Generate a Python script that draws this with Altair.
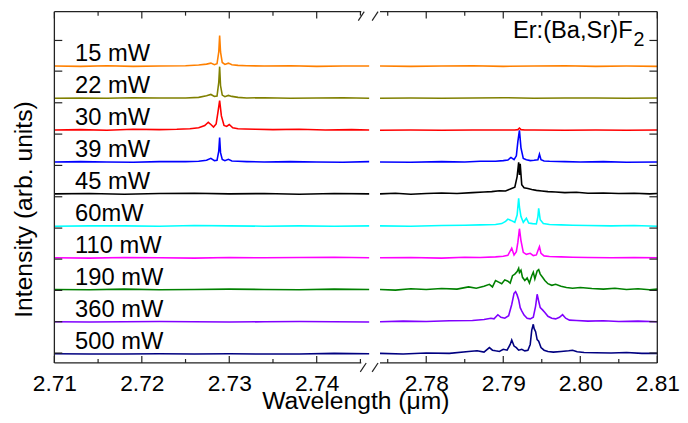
import altair as alt
import pandas as pd

# ---------------- data ----------------
labels = ["15 mW", "22 mW", "30 mW", "39 mW", "45 mW", "60mW", "110 mW", "190 mW", "360 mW", "500 mW"]
offsets = [9, 8, 7, 6, 5, 4, 3, 2, 1, 0]
colors = ["#FF8000", "#808000", "#FF0000", "#0000FF", "#000000",
          "#00FFFF", "#FF00FF", "#008000", "#8000FF", "#000080"]

# left segment (2.710 - 2.746 um)
LEFT_PEAK_X = [2.710, 2.713, 2.716, 2.719, 2.722, 2.725, 2.7265, 2.7274, 2.7279, 2.7283, 2.7286,
               2.7288, 2.7289, 2.7290, 2.7292, 2.7295, 2.7299, 2.7303, 2.7310, 2.7320, 2.7340,
               2.7370, 2.7400, 2.7430, 2.7460]
mw15_left = [0.01, 0.00, 0.02, 0.00, 0.01, 0.02, 0.04, 0.07, 0.10, 0.05, 0.08, 0.45, 0.96, 0.45,
             0.12, 0.06, 0.10, 0.05, 0.03, 0.02, 0.01, 0.02, 0.00, 0.01, 0.01]
mw22_left = [0.00, 0.01, 0.00, 0.02, 0.01, 0.01, 0.03, 0.08, 0.12, 0.06, 0.07, 0.50, 0.99, 0.40,
             0.10, 0.05, 0.09, 0.06, 0.03, 0.01, 0.02, 0.00, 0.01, 0.02, 0.00]
mw39_left = [0.01, 0.02, 0.01, 0.00, 0.02, 0.02, 0.03, 0.06, 0.12, 0.05, 0.06, 0.35, 0.77, 0.30,
             0.09, 0.05, 0.09, 0.04, 0.03, 0.02, 0.01, 0.02, 0.01, 0.00, 0.02]
mw30_left_x = [2.710, 2.713, 2.716, 2.719, 2.722, 2.724, 2.7255, 2.7265, 2.7272, 2.7276, 2.7279,
               2.7282, 2.7285, 2.7287, 2.7289, 2.7291, 2.7294, 2.7297, 2.7300, 2.7304, 2.7310,
               2.7318, 2.7330, 2.7350, 2.7380, 2.7410, 2.7440, 2.7460]
mw30_left_y = [0.01, 0.02, 0.00, 0.03, 0.02, 0.03, 0.05, 0.08, 0.15, 0.25, 0.18, 0.10, 0.20, 0.55,
               0.93, 0.45, 0.15, 0.12, 0.18, 0.08, 0.05, 0.04, 0.03, 0.02, 0.03, 0.01, 0.02, 0.01]
LEFT_FLAT_X = [2.710, 2.714, 2.718, 2.722, 2.726, 2.730, 2.734, 2.738, 2.742, 2.746]
mw45_left = [0.01, 0.02, 0.00, 0.02, 0.03, 0.01, 0.02, 0.00, 0.02, 0.01]
mw60_left = [0.00, 0.01, 0.01, 0.00, 0.02, 0.01, 0.00, 0.01, 0.00, 0.01]
mw110_left = [0.01, 0.00, 0.02, 0.01, 0.00, 0.02, 0.01, 0.02, 0.03, 0.01]
mw190_left = [0.02, 0.01, 0.03, 0.01, 0.02, 0.03, 0.02, 0.01, 0.03, 0.02]
mw360_left = [0.01, 0.00, 0.01, 0.02, 0.01, 0.00, 0.01, 0.02, 0.01, 0.00]
mw500_left = [0.01, 0.00, 0.00, 0.01, 0.00, 0.01, 0.00, 0.00, 0.02, 0.01]

# right segment (2.774 - 2.810 um)
RIGHT_FLAT_X = [2.774, 2.778, 2.782, 2.786, 2.790, 2.794, 2.798, 2.802, 2.806, 2.810]
mw15_right = [0.01, 0.00, 0.01, 0.02, 0.00, 0.01, 0.02, 0.00, 0.01, 0.00]
mw22_right = [0.00, 0.01, 0.00, 0.01, 0.02, 0.00, 0.01, 0.01, 0.00, 0.01]
mw30_right_x = [2.774, 2.778, 2.782, 2.786, 2.790, 2.7915, 2.7919, 2.7921, 2.7923, 2.7928, 2.794,
                2.798, 2.802, 2.806, 2.810]
mw30_right_y = [0.00, 0.01, 0.00, 0.01, 0.01, 0.01, 0.02, 0.07, 0.02, 0.01, 0.01, 0.00, 0.01, 0.00, 0.01]
mw39_right_x = [2.774, 2.778, 2.782, 2.785, 2.787, 2.789, 2.7900, 2.7906, 2.7910, 2.7914, 2.7917,
                2.7919, 2.7921, 2.7923, 2.7926, 2.7930, 2.7935, 2.7940, 2.7945, 2.7947, 2.7949,
                2.7953, 2.7960, 2.7980, 2.8000, 2.8030, 2.8060, 2.8100]
mw39_right_y = [0.01, 0.00, 0.02, 0.01, 0.03, 0.03, 0.05, 0.07, 0.15, 0.08, 0.20, 0.65, 1.00, 0.45,
                0.12, 0.08, 0.05, 0.06, 0.08, 0.25, 0.08, 0.04, 0.03, 0.02, 0.01, 0.02, 0.00, 0.01]
mw45_right_x = [2.774, 2.776, 2.778, 2.780, 2.782, 2.784, 2.786, 2.7875, 2.7885, 2.7895, 2.7903,
                2.7910, 2.7915, 2.7918, 2.7920, 2.7921, 2.7922, 2.7924, 2.7927, 2.7932, 2.7937,
                2.7943, 2.7950, 2.7958, 2.7968, 2.7980, 2.7995, 2.8010, 2.8030, 2.8050, 2.8070,
                2.8090, 2.8100]
mw45_right_y = [0.01, 0.03, 0.00, 0.02, 0.04, 0.02, 0.05, 0.07, 0.08, 0.11, 0.10, 0.17, 0.22, 0.55,
                1.00, 0.60, 0.95, 0.30, 0.20, 0.18, 0.15, 0.12, 0.10, 0.08, 0.07, 0.05, 0.06, 0.03,
                0.04, 0.02, 0.03, 0.01, 0.02]
mw60_right_x = [2.774, 2.778, 2.782, 2.785, 2.787, 2.789, 2.7898, 2.7903, 2.7906, 2.7910, 2.7915,
                2.7918, 2.7920, 2.7921, 2.7923, 2.7926, 2.7930, 2.7933, 2.7938, 2.7943, 2.7945,
                2.7946, 2.7948, 2.7952, 2.7960, 2.7975, 2.7990, 2.8010, 2.8040, 2.8070, 2.8100]
mw60_right_y = [0.01, 0.00, 0.02, 0.03, 0.04, 0.05, 0.08, 0.15, 0.22, 0.18, 0.12, 0.35, 0.87, 0.60,
                0.30, 0.12, 0.25, 0.10, 0.08, 0.07, 0.30, 0.56, 0.20, 0.08, 0.05, 0.04, 0.03, 0.02,
                0.01, 0.02, 0.00]
mw110_right_x = [2.774, 2.778, 2.782, 2.785, 2.787, 2.789, 2.7900, 2.7906, 2.7911, 2.7914, 2.7917,
                 2.7919, 2.7921, 2.7923, 2.7926, 2.7930, 2.7935, 2.7939, 2.7943, 2.7946, 2.7947,
                 2.7949, 2.7953, 2.7960, 2.7975, 2.7990, 2.8010, 2.8040, 2.8070, 2.8100]
mw110_right_y = [0.01, 0.02, 0.00, 0.03, 0.02, 0.04, 0.06, 0.09, 0.31, 0.10, 0.20, 0.50, 0.92, 0.55,
                 0.18, 0.12, 0.15, 0.08, 0.10, 0.30, 0.36, 0.15, 0.07, 0.05, 0.04, 0.03, 0.02, 0.01,
                 0.02, 0.01]
mw190_right_x = [2.774, 2.776, 2.778, 2.780, 2.782, 2.784, 2.7855, 2.7865, 2.7875, 2.7882, 2.7886,
                 2.7890, 2.7894, 2.7898, 2.7902, 2.7906, 2.7909, 2.7912, 2.7915, 2.7918, 2.7920,
                 2.7921, 2.7923, 2.7925, 2.7928, 2.7931, 2.7934, 2.7937, 2.7939, 2.7941, 2.7944,
                 2.7946, 2.7948, 2.7951, 2.7954, 2.7958, 2.7963, 2.7968, 2.7975, 2.7982, 2.7990,
                 2.8000, 2.8015, 2.8030, 2.8045, 2.8060, 2.8075, 2.8090, 2.8100]
mw190_right_y = [0.02, 0.00, 0.04, 0.02, 0.05, 0.03, 0.10, 0.06, 0.12, 0.18, 0.10, 0.30, 0.25, 0.20,
                 0.32, 0.28, 0.22, 0.45, 0.50, 0.58, 0.68, 0.55, 0.62, 0.40, 0.30, 0.38, 0.22, 0.45,
                 0.56, 0.35, 0.60, 0.64, 0.50, 0.40, 0.30, 0.20, 0.15, 0.18, 0.12, 0.08, 0.06, 0.08,
                 0.05, 0.03, 0.06, 0.02, 0.04, 0.01, 0.03]
mw360_right_x = [2.774, 2.777, 2.780, 2.783, 2.786, 2.7875, 2.7884, 2.7888, 2.7893, 2.7897, 2.7902,
                 2.7907, 2.7911, 2.7914, 2.7916, 2.7918, 2.7920, 2.7922, 2.7924, 2.7927, 2.7931,
                 2.7935, 2.7939, 2.7942, 2.7944, 2.7946, 2.7948, 2.7951, 2.7954, 2.7958, 2.7963,
                 2.7968, 2.7973, 2.7977, 2.7981, 2.7986, 2.7995, 2.8010, 2.8030, 2.8050, 2.8075,
                 2.8100]
mw360_right_y = [0.01, 0.03, 0.02, 0.04, 0.05, 0.08, 0.12, 0.10, 0.23, 0.15, 0.12, 0.20, 0.55, 0.90,
                 0.95, 0.85, 0.70, 0.45, 0.35, 0.22, 0.12, 0.10, 0.15, 0.50, 0.87, 0.65, 0.45, 0.38,
                 0.30, 0.18, 0.12, 0.10, 0.15, 0.23, 0.12, 0.06, 0.05, 0.03, 0.04, 0.02, 0.03, 0.01]
mw500_right_x = [2.774, 2.777, 2.780, 2.783, 2.7855, 2.7866, 2.7875, 2.7882, 2.7886, 2.7890, 2.7895,
                 2.7900, 2.7905, 2.7909, 2.7911, 2.7914, 2.7917, 2.7920, 2.7924, 2.7928, 2.7932,
                 2.7935, 2.7937, 2.7939, 2.7940, 2.7942, 2.7944, 2.7946, 2.7949, 2.7953, 2.7958,
                 2.7965, 2.7975, 2.7985, 2.7990, 2.7996, 2.8005, 2.8020, 2.8040, 2.8060, 2.8080,
                 2.8100]
mw500_right_y = [0.02, 0.00, 0.03, 0.02, 0.08, 0.10, 0.06, 0.20, 0.12, 0.10, 0.08, 0.15, 0.12, 0.30,
                 0.44, 0.25, 0.20, 0.12, 0.15, 0.10, 0.12, 0.30, 0.75, 0.93, 0.80, 0.70, 0.45, 0.40,
                 0.20, 0.12, 0.08, 0.06, 0.08, 0.10, 0.12, 0.07, 0.05, 0.04, 0.03, 0.05, 0.02, 0.02]

# axis ticks / labels
left_major = [2.71, 2.72, 2.73, 2.74]
left_minor = [2.715, 2.725, 2.735, 2.745]
right_major = [2.78, 2.79, 2.80, 2.81]
right_minor = [2.775, 2.785, 2.795, 2.805]
y_ticks = [9.81, 8.85, 7.86, 6.88, 5.90, 4.92, 3.94, 2.97, 1.99, 1.01, 0.03]

# ---------------- build tables ----------------
left_series = {
    "15 mW": (LEFT_PEAK_X, mw15_left), "22 mW": (LEFT_PEAK_X, mw22_left),
    "30 mW": (mw30_left_x, mw30_left_y), "39 mW": (LEFT_PEAK_X, mw39_left),
    "45 mW": (LEFT_FLAT_X, mw45_left), "60mW": (LEFT_FLAT_X, mw60_left),
    "110 mW": (LEFT_FLAT_X, mw110_left), "190 mW": (LEFT_FLAT_X, mw190_left),
    "360 mW": (LEFT_FLAT_X, mw360_left), "500 mW": (LEFT_FLAT_X, mw500_left),
}
right_series = {
    "15 mW": (RIGHT_FLAT_X, mw15_right), "22 mW": (RIGHT_FLAT_X, mw22_right),
    "30 mW": (mw30_right_x, mw30_right_y), "39 mW": (mw39_right_x, mw39_right_y),
    "45 mW": (mw45_right_x, mw45_right_y), "60mW": (mw60_right_x, mw60_right_y),
    "110 mW": (mw110_right_x, mw110_right_y), "190 mW": (mw190_right_x, mw190_right_y),
    "360 mW": (mw360_right_x, mw360_right_y), "500 mW": (mw500_right_x, mw500_right_y),
}


def table(series):
    rows = []
    for lab, (xs, ys) in series.items():
        off = offsets[labels.index(lab)]
        for a, b in zip(xs, ys):
            rows.append({"lam": a, "y": off + b, "label": lab})
    return pd.DataFrame(rows)


dfL = table(left_series)
dfR = table(right_series)
df_lab = pd.DataFrame({"label": labels, "y": [o + 0.155 for o in offsets]})

W_L, W_R, H = 319, 281, 356
FONT = "Liberation Sans"
yscale = alt.Scale(domain=[-0.28, 10.71], nice=False, zero=False)
xsL = alt.Scale(domain=[2.71, 2.746], nice=False, zero=False)
xsR = alt.Scale(domain=[2.774, 2.81], nice=False, zero=False)
color = alt.Color("label:N", scale=alt.Scale(domain=labels, range=colors), legend=None)
one = pd.DataFrame({"a": [0]})
FR = "#222222"


def rule_h(y, x1, x2):
    return alt.Chart(one).mark_rule(color=FR, strokeWidth=1.3).encode(
        x=alt.value(x1), x2=alt.value(x2), y=alt.value(y))


def rule_v(x, y1, y2):
    return alt.Chart(one).mark_rule(color=FR, strokeWidth=1.3).encode(
        x=alt.value(x), y=alt.value(y1), y2=alt.value(y2))


def xticks(vals, xs, y1, y2):
    return alt.Chart(pd.DataFrame({"lam": vals})).mark_rule(color=FR, strokeWidth=1.2).encode(
        x=alt.X("lam:Q", scale=xs), y=alt.value(y1), y2=alt.value(y2))


def yticks(x1, x2):
    return alt.Chart(pd.DataFrame({"y": y_ticks})).mark_rule(color=FR, strokeWidth=1.2).encode(
        y=alt.Y("y:Q", scale=yscale), x=alt.value(x1), x2=alt.value(x2))


def slash(x, y):
    return alt.Chart(one).mark_rule(color=FR, strokeWidth=1.2).encode(
        x=alt.value(x), y=alt.value(y + 9), x2=alt.value(x + 6), y2=alt.value(y))


# ---------------- left panel ----------------
linesL = alt.Chart(dfL).mark_line(strokeWidth=1.6).encode(
    x=alt.X("lam:Q", scale=xsL,
            axis=alt.Axis(values=left_major, format=".2f", ticks=False, domain=False, grid=False,
                          labelFontSize=23, labelColor="black", labelPadding=10, labelFlush=False,
                          title="Wavelength (μm)", titleFontSize=25, titleFontWeight="normal",
                          titleColor="black", titleX=305, titleY=46, titleBaseline="alphabetic",
                          titleAlign="center")),
    y=alt.Y("y:Q", scale=yscale,
            axis=alt.Axis(ticks=False, labels=False, domain=False, grid=False,
                          title="Intensity (arb. units)", titleFontSize=25, titleFontWeight="normal",
                          titleColor="black", titlePadding=18, titleY=200, titleAlign="center")),
    color=color, detail="label:N")

textL = alt.Chart(df_lab).mark_text(align="left", baseline="alphabetic", fontSize=24,
                                    color="black").encode(
    x=alt.value(21), y=alt.Y("y:Q", scale=yscale), text="label:N")

left = alt.layer(
    linesL, textL,
    rule_v(0, 0, H), rule_h(0, 0, 311), rule_h(H, 0, 311),
    xticks(left_major, xsL, H, H - 7), xticks(left_minor, xsL, H, H - 4),
    xticks(left_major, xsL, 0, 7), xticks(left_minor, xsL, 0, 4),
    yticks(0, 8),
    slash(308, 0), slash(322, 0), slash(310, H), slash(322, H),
).properties(width=W_L, height=H)

# ---------------- right panel ----------------
linesR = alt.Chart(dfR).mark_line(strokeWidth=1.6).encode(
    x=alt.X("lam:Q", scale=xsR,
            axis=alt.Axis(values=right_major, format=".2f", ticks=False, domain=False, grid=False,
                          labelFontSize=23, labelColor="black", labelPadding=10, labelFlush=False,
                          title=None)),
    y=alt.Y("y:Q", scale=yscale,
            axis=alt.Axis(ticks=False, labels=False, domain=False, grid=False, title=None)),
    color=color, detail="label:N")

titleR = alt.Chart(one).mark_text(align="right", baseline="alphabetic", fontSize=24,
                                  color="black").encode(
    x=alt.value(256), y=alt.value(27), text=alt.value("Er:(Ba,Sr)F"))
subR = alt.Chart(one).mark_text(align="left", baseline="alphabetic", fontSize=20,
                                color="black").encode(
    x=alt.value(257), y=alt.value(35), text=alt.value("2"))

right = alt.layer(
    linesR, titleR, subR,
    rule_v(W_R, 0, H), rule_h(0, 0, W_R), rule_h(H, 0, W_R),
    xticks(right_major, xsR, H, H - 7), xticks(right_minor, xsR, H, H - 4),
    xticks(right_major, xsR, 0, 7), xticks(right_minor, xsR, 0, 4),
    yticks(W_R - 8, W_R),
).properties(width=W_R, height=H)

chart = alt.hconcat(left, right, spacing=11, bounds="flush").properties(
    padding={"left": 4, "top": 0, "right": 0, "bottom": 0}
).configure(font=FONT).configure_view(stroke=None)

chart.save("out.html", embed_options={"renderer": "svg", "actions": False})
